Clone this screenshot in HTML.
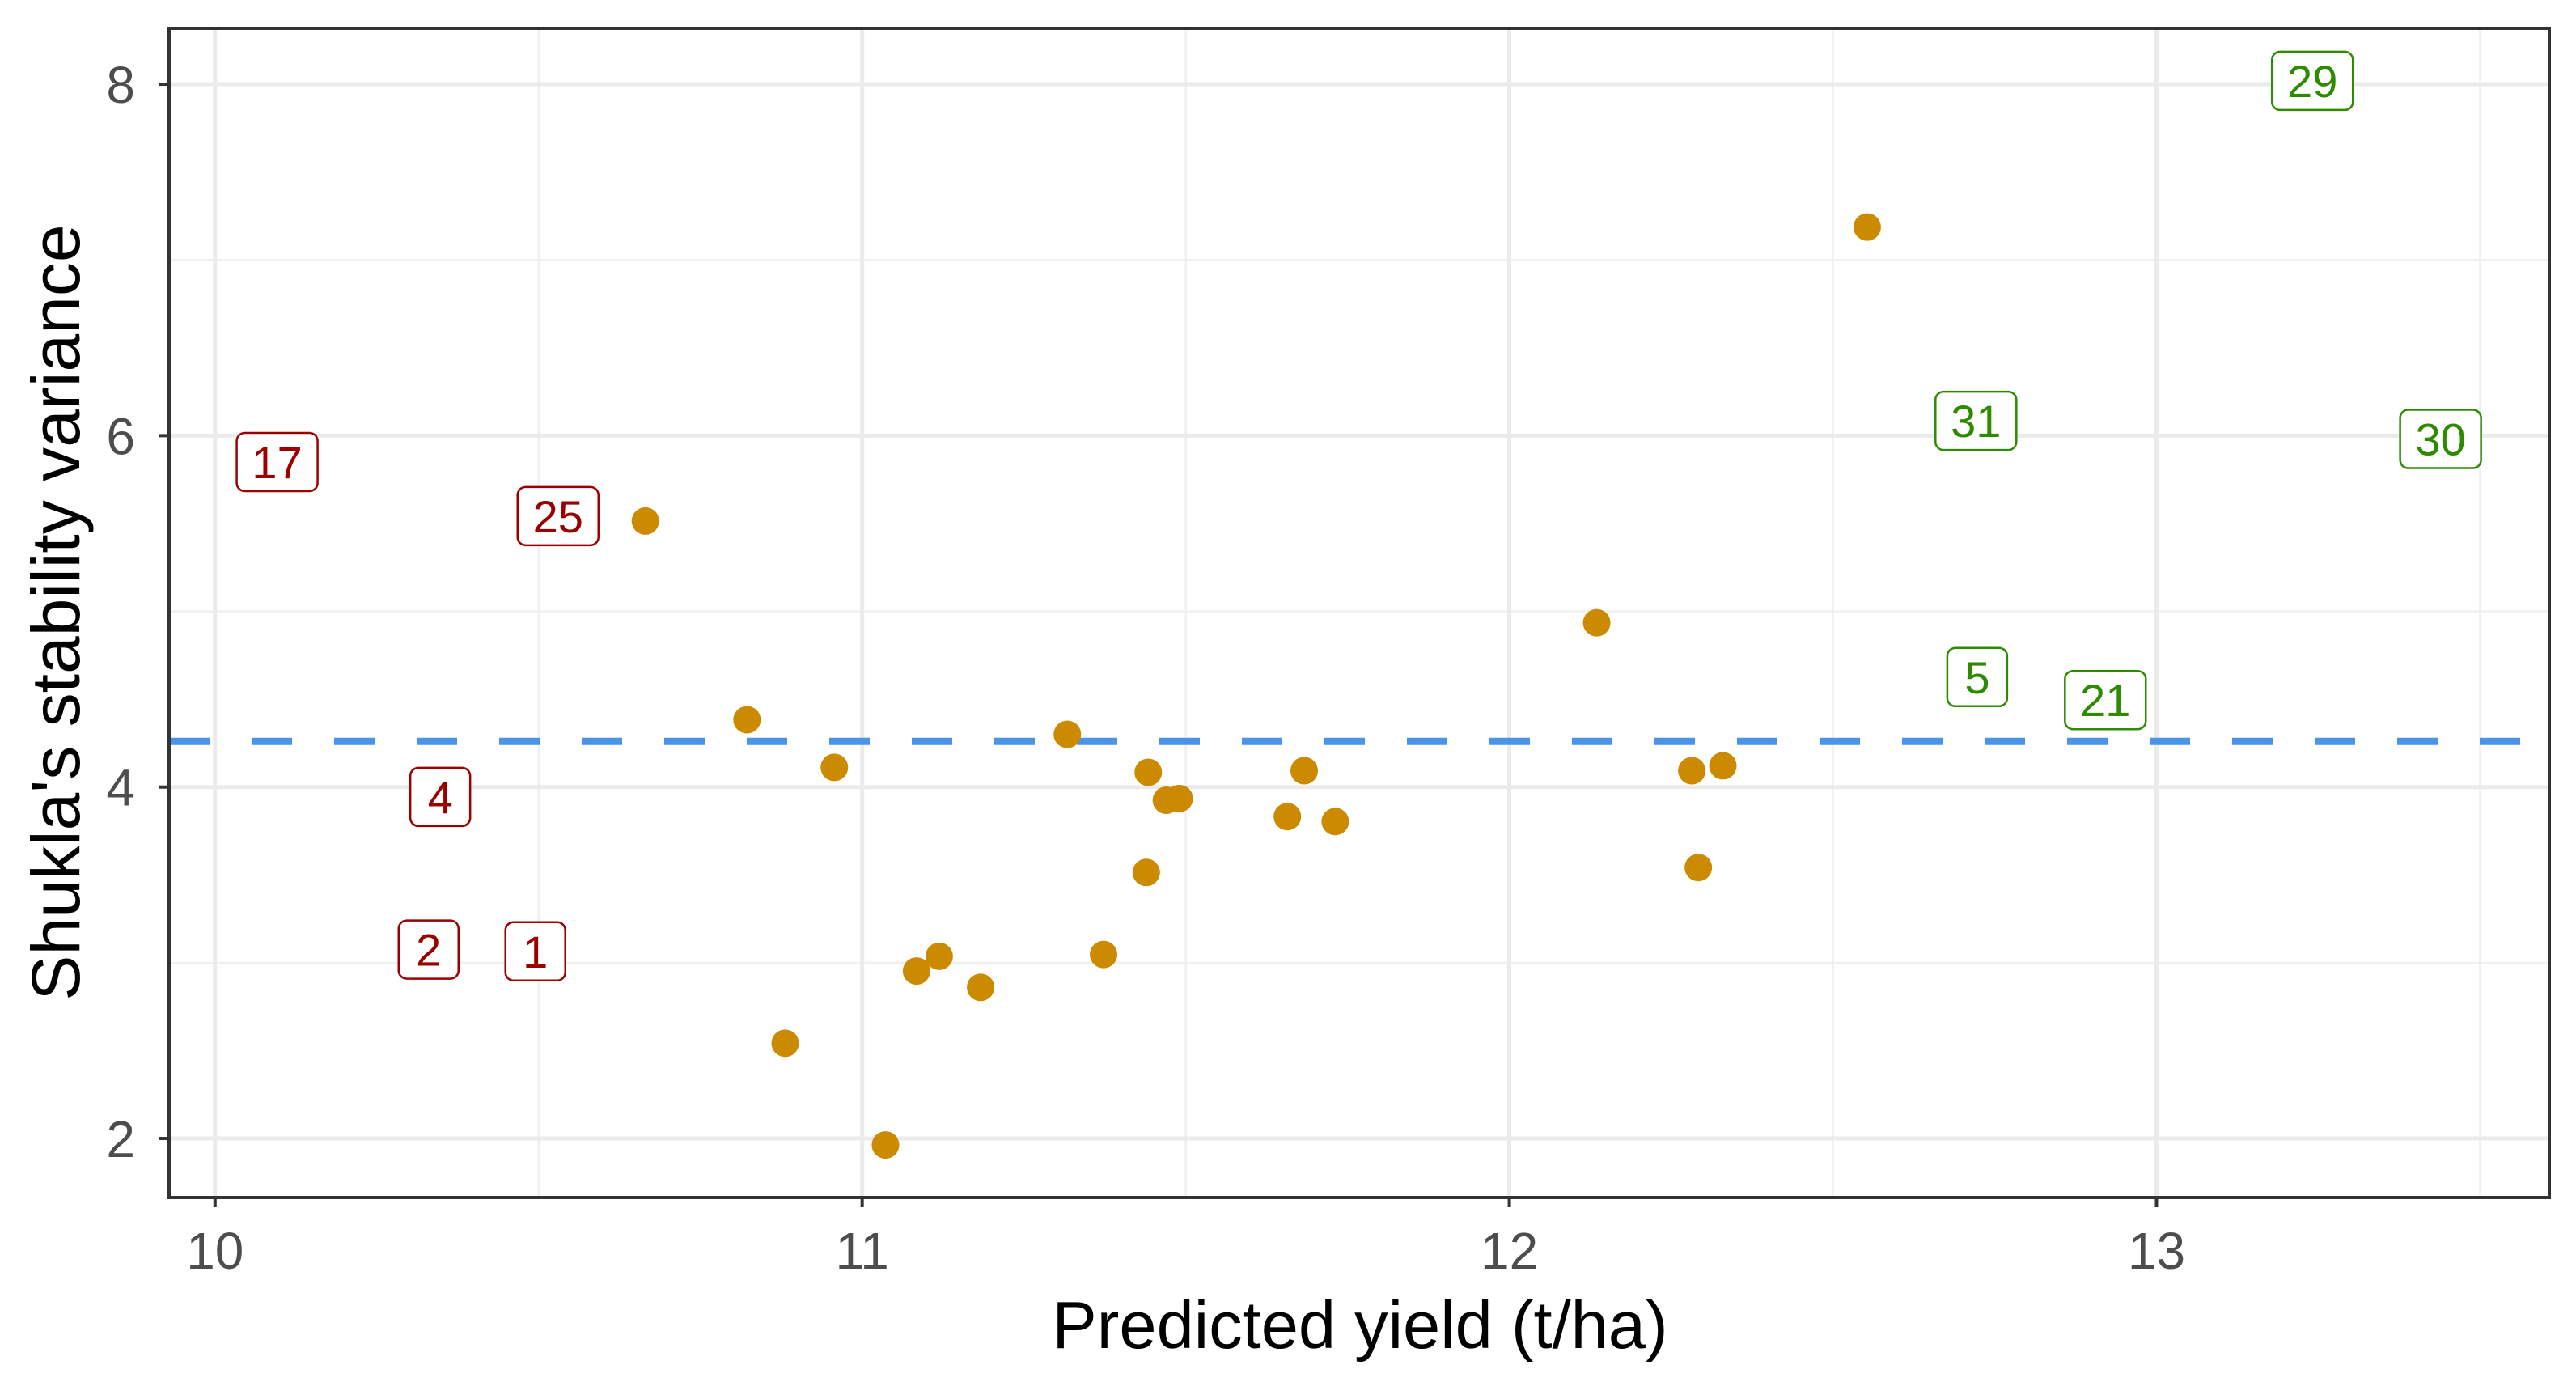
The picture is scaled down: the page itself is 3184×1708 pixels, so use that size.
<!DOCTYPE html>
<html><head><meta charset="utf-8"><style>
html,body{margin:0;padding:0;background:#fff;}
svg{display:block;font-family:"Liberation Sans",Arial,sans-serif;}
</style></head><body>
<svg id="chart" width="3184" height="1708" viewBox="0 0 3184 1708" xmlns="http://www.w3.org/2000/svg">
<rect x="0" y="0" width="3184" height="1708" fill="#fff"/>
<g id="grid"></g>
<g id="hline"></g>
<g id="points"></g>
<g id="labels"></g>
<rect x="209" y="35" width="2942" height="1445" fill="none" stroke="#333" stroke-width="4"/>
<g id="axes"></g>
<text x="1681" y="1666" font-size="83" text-anchor="middle" fill="#000">Predicted yield (t/ha)</text>
<text transform="translate(98,757) rotate(-90)" font-size="84" text-anchor="middle" fill="#000">Shukla's stability variance</text>
</svg>
<script>
const xTicks = [10, 11, 12, 13];
const xTickLabels = ["10", "11", "12", "13"];
const yTicks = [2, 4, 6, 8];
const yTickLabels = ["2", "4", "6", "8"];
const meanValue = [4.26];
const pointX = [10.665,10.822,10.957,10.881,11.036,11.084,11.119,11.183,11.317,11.373,11.442,11.439,11.470,11.490,11.657,11.683,11.731,12.135,12.282,12.330,12.292,12.553];
const pointY = [5.514,4.383,4.112,2.542,1.963,2.953,3.037,2.860,4.300,3.047,4.084,3.514,3.925,3.935,3.832,4.093,3.804,4.935,4.093,4.121,3.542,7.187];
const lowLabels = ["17","25","4","2","1"];
const lowX = [10.096,10.530,10.348,10.330,10.495];
const lowY = [5.85,5.542,3.944,3.075,3.065];
const highLabels = ["29","31","30","5","21"];
const highX = [13.241,12.721,13.439,12.723,12.921];
const highY = [8.019,6.084,5.981,4.626,4.495];

const NS = "http://www.w3.org/2000/svg";
const L = 209, R = 3151, T = 35, B = 1480;
const xMin = 9.929, xMax = 13.607, yMin = 1.664, yMax = 8.318;
function sx(v){ return L + (v - xMin) / (xMax - xMin) * (R - L); }
function sy(v){ return B - (v - yMin) / (yMax - yMin) * (B - T); }
function mk(tag, attrs, parent){ const e = document.createElementNS(NS, tag); for (const k in attrs) e.setAttribute(k, attrs[k]); parent.appendChild(e); return e; }

const grid = document.getElementById('grid');
mk('rect',{x:L,y:T,width:R-L,height:B-T,fill:'#fff'},grid);
for (let i = 0; i < xTicks.length; i++) {
  const mv = xTicks[i] + 0.5;
  if (mv < xMax) { const ln = mk('line',{x1:sx(mv),x2:sx(mv),y1:T,y2:B,stroke:'#f0f0f0','stroke-width':2.5},grid);
    
     }
}
for (let i = 0; i < yTicks.length; i++) {
  const mv = yTicks[i] + 1;
  if (mv < yMax) { const ln = mk('line',{x1:L,x2:R,y1:sy(mv),y2:sy(mv),stroke:'#f0f0f0','stroke-width':2.5},grid);
    
     }
}
const axes = document.getElementById('axes');
for (let i = 0; i < xTicks.length; i++) {
  const x = sx(xTicks[i]);
  const ln = mk('line',{x1:x,x2:x,y1:T,y2:B,stroke:'#ebebeb','stroke-width':5},grid);
  
  
  const tk = mk('line',{x1:x,x2:x,y1:B,y2:B+12,stroke:'#333','stroke-width':4},axes);
  
  
  const t = mk('text',{x:x,y:B+88,'font-size':64,'text-anchor':'middle',fill:'#4d4d4d'},axes);
  t.textContent = xTickLabels[i];
  
  
}
for (let i = 0; i < yTicks.length; i++) {
  const y = sy(yTicks[i]);
  const ln = mk('line',{x1:L,x2:R,y1:y,y2:y,stroke:'#ebebeb','stroke-width':5},grid);
  
  
  const tk = mk('line',{x1:L-12,x2:L,y1:y,y2:y,stroke:'#333','stroke-width':4},axes);
  
  
  const t = mk('text',{x:L-42,y:y+23,'font-size':64,'text-anchor':'end',fill:'#4d4d4d'},axes);
  t.textContent = yTickLabels[i];
  
  
}
const hl = document.getElementById('hline');
const dl = mk('line',{x1:L,x2:R,y1:sy(meanValue[0]),y2:sy(meanValue[0]),stroke:'#4a93e6','stroke-width':9,'stroke-dasharray':'50 52'},hl);



const pts = document.getElementById('points');
for (let i = 0; i < pointX.length; i++) {
  const c = mk('circle',{cx:sx(pointX[i]),cy:sy(pointY[i]),r:17,fill:'#cc8a00'},pts);
  
  
}
const lab = document.getElementById('labels');
function drawLabels(names, xs, ys, color, nm){
  for (let i = 0; i < names.length; i++) {
    const w = names[i].length > 1 ? 100 : 74, h = 72;
    const cx = sx(xs[i]), cy = sy(ys[i]);
    const g = mk('g',{},lab);
    
    
    mk('rect',{x:cx-w/2,y:cy-h/2,width:w,height:h,rx:10,fill:'#fff',stroke:color,'stroke-width':2.5},g);
    const t = mk('text',{x:cx,y:cy+20,'font-size':56,'text-anchor':'middle',fill:color},g);
    t.textContent = names[i];
  }
}
drawLabels(lowLabels, lowX, lowY, '#9b0000', 'low-yield-label');
drawLabels(highLabels, highX, highY, '#2e8b00', 'high-yield-label');
</script>
</body></html>
